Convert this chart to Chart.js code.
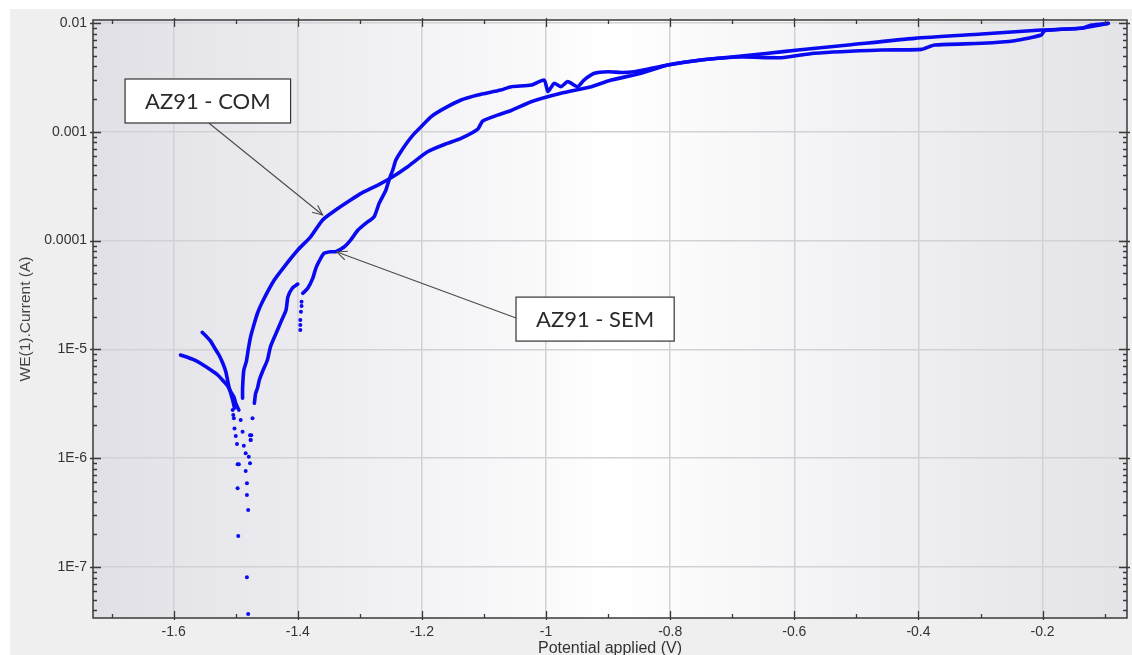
<!DOCTYPE html>
<html><head><meta charset="utf-8">
<script src="https://cdn.jsdelivr.net/npm/chart.js@4.4.1/dist/chart.umd.min.js"></script>
<style>html,body{margin:0;padding:0;background:#fff;overflow:hidden}</style>
</head><body>
<canvas id="c" width="1132" height="655"></canvas>
<script>
// ---- axis ticks ----
const xTickValues = [-1.6,-1.4,-1.2,-1.0,-0.8,-0.6,-0.4,-0.2];
const xTickLabels = ['-1.6','-1.4','-1.2','-1','-0.8','-0.6','-0.4','-0.2'];
const yTickValues = [1e-7,1e-6,1e-5,1e-4,1e-3,1e-2];
const yTickLabels = ['1E-7','1E-6','1E-5','0.0001','0.001','0.01'];

// ---- AZ91 - COM ----
const comCathodicV = [-1.589,-1.579,-1.567,-1.555,-1.540,-1.529,-1.519,-1.513,-1.508,-1.503,-1.500,-1.495];
const comCathodicI = [8.89e-6,8.51e-6,8.0e-6,7.35e-6,6.47e-6,5.82e-6,5.05e-6,4.61e-6,4.08e-6,3.65e-6,3.20e-6,2.77e-6];
const comAnodicV = [-1.489,-1.489,-1.487,-1.483,-1.480,-1.476,-1.470,-1.465,-1.457,-1.438,-1.422,-1.400,-1.379,-1.360,-1.339,-1.315,-1.298,-1.271,-1.247,-1.223,-1.191,-1.159,-1.137,-1.110,-1.102,-1.073,-1.056,-1.024,-0.976,-0.927,-0.895,-0.847,-0.804,-0.750,-0.685,-0.621,-0.568,-0.460,-0.395,-0.374,-0.298,-0.245,-0.202,-0.197,-0.137,-0.095];
const comAnodicI = [3.56e-6,4.39e-6,6.47e-6,7.71e-6,9.88e-6,1.31e-5,1.74e-5,2.15e-5,2.74e-5,4.34e-5,5.75e-5,8.20e-5,1.09e-4,1.55e-4,1.91e-4,2.36e-4,2.72e-4,3.24e-4,3.87e-4,4.78e-4,6.56e-4,7.84e-4,8.71e-4,1.06e-3,1.26e-3,1.46e-3,1.57e-3,1.89e-3,2.26e-3,2.60e-3,2.99e-3,3.45e-3,4.11e-3,4.57e-3,4.87e-3,4.80e-3,5.27e-3,5.65e-3,5.73e-3,6.28e-3,6.51e-3,6.88e-3,7.76e-3,8.50e-3,9.0e-3,9.89e-3];

// ---- AZ91 - SEM ----
const semCathodicV = [-1.554,-1.548,-1.540,-1.534,-1.527,-1.521,-1.516,-1.511,-1.505,-1.502];
const semCathodicI = [1.435e-5,1.33e-5,1.18e-5,1.03e-5,8.89e-6,7.5e-6,6.24e-6,4.54e-6,3.43e-6,2.89e-6];
const semBranchV = [-1.470,-1.468,-1.465,-1.462,-1.457,-1.449,-1.444,-1.435,-1.427,-1.419,-1.416,-1.409,-1.400];
const semBranchI = [3.20e-6,3.95e-6,4.39e-6,5.24e-6,6.24e-6,8.0e-6,1.06e-5,1.41e-5,1.80e-5,2.30e-5,3.03e-5,3.65e-5,3.99e-5];
const semDotsV = [-1.476,-1.475,-1.473,-1.396,-1.396,-1.396,-1.395,-1.394,-1.394];
const semDotsI = [1.47e-6,1.63e-6,2.33e-6,1.51e-5,1.68e-5,1.86e-5,2.22e-5,2.51e-5,2.74e-5];
const semAnodicV = [-1.392,-1.384,-1.376,-1.371,-1.366,-1.358,-1.347,-1.339,-1.325,-1.315,-1.303,-1.290,-1.277,-1.269,-1.258,-1.253,-1.247,-1.242,-1.234,-1.223,-1.212,-1.199,-1.185,-1.164,-1.137,-1.110,-1.073,-1.056,-1.024,-1.003,-0.997,-0.987,-0.976,-0.965,-0.949,-0.939,-0.922,-0.900,-0.879,-0.858,-0.804,-0.750,-0.697,-0.642,-0.594,-0.513,-0.406,-0.298,-0.202,-0.137,-0.121,-0.094];
const semAnodicI = [3.28e-5,3.65e-5,4.50e-5,5.56e-5,6.40e-5,7.64e-5,7.91e-5,7.91e-5,8.79e-5,1.01e-4,1.25e-4,1.45e-4,1.66e-4,2.20e-4,2.92e-4,3.61e-4,4.46e-4,5.51e-4,6.56e-4,8.11e-4,9.68e-4,1.15e-3,1.38e-3,1.64e-3,1.96e-3,2.18e-3,2.42e-3,2.60e-3,2.69e-3,2.99e-3,2.34e-3,2.79e-3,2.60e-3,2.89e-3,2.60e-3,2.99e-3,3.45e-3,3.57e-3,3.51e-3,3.57e-3,4.11e-3,4.57e-3,4.90e-3,5.27e-3,5.65e-3,6.28e-3,7.23e-3,7.92e-3,8.63e-3,8.94e-3,9.58e-3,9.94e-3];

// ---- scattered points around the corrosion potential ----
const dipDotsV = [-1.505,-1.504,-1.503,-1.502,-1.500,-1.498,-1.497,-1.495,-1.497,-1.496,-1.492,-1.489,-1.487,-1.484,-1.477,-1.476,-1.479,-1.477,-1.484,-1.482,-1.482,-1.480,-1.482,-1.480];
const dipDotsI = [2.77e-6,2.49e-6,2.33e-6,1.88e-6,1.60e-6,1.35e-6,8.79e-7,8.79e-7,5.29e-7,1.93e-7,2.24e-6,1.75e-6,1.30e-6,1.11e-6,1.63e-6,1.47e-6,1.03e-6,8.98e-7,7.62e-7,5.88e-7,4.59e-7,3.34e-7,8.04e-8,3.70e-8];

// ---- annotations (data coordinates) ----
const annotLabels = ['AZ91 - COM','AZ91 - SEM'];
const annotBoxV = [-1.545,-0.921];
const annotBoxI = [1.92e-3,1.90e-5];
const annotTipV = [-1.360,-1.337];
const annotTipI = [1.72e-4,7.85e-5];

const pts = (v,i) => v.map((x,k)=>({x:x,y:i[k]}));
const BLUE = 'rgb(10,10,240)';
const FONT = '"Liberation Sans", Arial, sans-serif';

function lineSet(v,i){return {data:pts(v,i),showLine:true,borderColor:BLUE,backgroundColor:BLUE,borderWidth:3.6,pointRadius:0,tension:0.2,borderCapStyle:'round',borderJoinStyle:'round'};}
function dotSet(v,i){return {data:pts(v,i),showLine:false,borderColor:BLUE,backgroundColor:BLUE,pointRadius:2,pointBorderWidth:0};}

const target = {left:93, right:1127, top:20, bottom:618};
let xAxisH = 37, yAxisW = 93, padTop = 20, padRight = 5;

const bgPlugin = {
  id:'bg',
  beforeDraw(chart){
    const ctx=chart.ctx, a=chart.chartArea;
    ctx.save();
    ctx.fillStyle='#ffffff'; ctx.fillRect(0,0,chart.width,chart.height);
    ctx.fillStyle='#efeff0'; ctx.fillRect(10,9,chart.width-10,chart.height-9);
    const g=ctx.createLinearGradient(a.left,0,a.right,0);
    g.addColorStop(0,'#e0e0e6');
    g.addColorStop(0.45,'#fbfbfc');
    g.addColorStop(0.5,'#ffffff');
    g.addColorStop(1,'#e3e3e8');
    ctx.fillStyle=g; ctx.fillRect(a.left,a.top,a.right-a.left,a.bottom-a.top);
    ctx.restore();
  }
};

const framePlugin = {
  id:'frame',
  afterDraw(chart){
    const ctx=chart.ctx, a=chart.chartArea, xs=chart.scales.x, ys=chart.scales.y;
    ctx.save();
    ctx.strokeStyle='#3a3a3a'; ctx.lineWidth=1.5;
    ctx.strokeRect(a.left,a.top,a.right-a.left,a.bottom-a.top);
    ctx.lineWidth=1.3;
    ctx.beginPath();
    for(let k=-17;k<=-1;k++){
      const v=k/10, px=Math.round(xs.getPixelForValue(v))+0.5;
      if(px<a.left||px>a.right) continue;
      const major=(k%2===0);
      const L=major?7:4;
      ctx.moveTo(px,a.bottom+(major?2:0)); ctx.lineTo(px,a.bottom-L);
      ctx.moveTo(px,a.top-(major?2:0)); ctx.lineTo(px,a.top+L);
    }
    for(let e=-8;e<=-2;e++){
      for(let m=1;m<=9;m++){
        const v=m*Math.pow(10,e);
        const py=Math.round(ys.getPixelForValue(v))+0.5;
        if(py<a.top-0.5||py>a.bottom) continue;
        const major=(m===1);
        const L=major?8:4;
        ctx.moveTo(a.left-(major?3:0),py); ctx.lineTo(a.left+L,py);
        ctx.moveTo(a.right+(major?3:0),py); ctx.lineTo(a.right-L,py);
      }
    }
    ctx.stroke();
    ctx.restore();
  }
};

const annotPlugin = {
  id:'annot',
  afterDatasetsDraw(chart){
    const ctx=chart.ctx, xs=chart.scales.x, ys=chart.scales.y;
    ctx.save();
    ctx.font='22px Lato, "Open Sans", sans-serif';
    for(let k=0;k<annotLabels.length;k++){
      const cx=xs.getPixelForValue(annotBoxV[k]), cy=ys.getPixelForValue(annotBoxI[k]);
      const tx=xs.getPixelForValue(annotTipV[k]), ty=ys.getPixelForValue(annotTipI[k]);
      const tw=ctx.measureText(annotLabels[k]).width;
      const w=tw+40, h=44;
      const bx=cx-w/2, by=cy-h/2;
      let sx,sy;
      if(k===0){sx=cx+1; sy=by+h;} else {sx=bx; sy=cy-1;}
      ctx.strokeStyle='#4a4a4a'; ctx.lineWidth=1.1;
      ctx.beginPath(); ctx.moveTo(sx,sy); ctx.lineTo(tx,ty); ctx.stroke();
      const ang=Math.atan2(ty-sy,tx-sx), al=11, aw=0.42;
      ctx.beginPath();
      ctx.moveTo(tx-al*Math.cos(ang-aw),ty-al*Math.sin(ang-aw));
      ctx.lineTo(tx,ty);
      ctx.lineTo(tx-al*Math.cos(ang+aw),ty-al*Math.sin(ang+aw));
      ctx.stroke();
      ctx.fillStyle='#ffffff'; ctx.fillRect(bx,by,w,h);
      ctx.strokeStyle='#333333'; ctx.lineWidth=1.2; ctx.strokeRect(bx,by,w,h);
      ctx.fillStyle='#2a2a2a'; ctx.textAlign='center'; ctx.textBaseline='middle';
      ctx.fillText(annotLabels[k],cx,cy+1);
    }
    ctx.restore();
  }
};

const chart = new Chart(document.getElementById('c'),{
  type:'scatter',
  data:{datasets:[
    lineSet(comCathodicV,comCathodicI),
    lineSet(comAnodicV,comAnodicI),
    lineSet(semCathodicV,semCathodicI),
    lineSet(semBranchV,semBranchI),
    dotSet(semDotsV,semDotsI),
    lineSet(semAnodicV,semAnodicI),
    dotSet(dipDotsV,dipDotsI)
  ]},
  options:{
    responsive:false, animation:false, devicePixelRatio:1,
    layout:{padding:{top:()=>padTop,right:()=>padRight,left:0,bottom:0}},
    plugins:{legend:{display:false},tooltip:{enabled:false}},
    scales:{
      x:{type:'linear',min:-1.73,max:-0.064,bounds:'data',
        afterBuildTicks(s){s.ticks=xTickValues.map(v=>({value:v}));},
        afterFit(s){s.height=xAxisH;},
        ticks:{callback:(v,i)=>xTickLabels[i],color:'#333',font:{family:FONT,size:14},padding:6,maxRotation:0,autoSkip:false},
        grid:{color:'#d2d2d6',lineWidth:1.5,drawTicks:false},
        border:{display:false},
        title:{display:true,text:'Potential applied (V)',color:'#333',font:{family:FONT,size:16,lineHeight:0.75},padding:{top:0,bottom:0}}
      },
      y:{type:'logarithmic',min:3.4e-8,max:1.066e-2,bounds:'data',
        afterBuildTicks(s){s.ticks=yTickValues.map(v=>({value:v}));},
        afterFit(s){s.width=yAxisW;},
        ticks:{callback:(v,i)=>yTickLabels[i],color:'#333',font:{family:FONT,size:14},padding:6,autoSkip:false},
        grid:{color:'#d2d2d6',lineWidth:1.5,drawTicks:false},
        border:{display:false},
        title:{display:true,text:'WE(1).Current (A)',color:'#444',font:{family:FONT,size:15.5,lineHeight:1.2},padding:{top:16,bottom:0}}
      }
    }
  },
  plugins:[bgPlugin,framePlugin,annotPlugin]
});
// align the plot area with the reference frame
for(let it=0;it<3;it++){
  const a=chart.chartArea;
  xAxisH += a.bottom - target.bottom;
  yAxisW += target.left - a.left;
  padTop += target.top - a.top;
  padRight += a.right - target.right;
  chart.update();
}
</script>
</body></html>
